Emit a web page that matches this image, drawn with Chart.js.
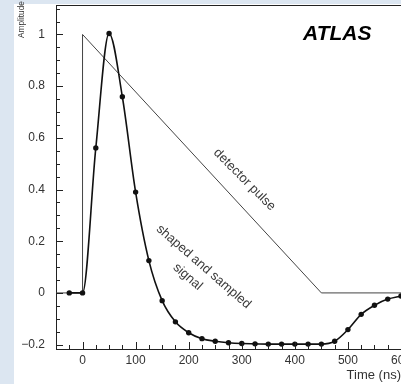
<!DOCTYPE html>
<html>
<head>
<meta charset="utf-8">
<script src="https://cdn.jsdelivr.net/npm/chart.js@4.4.1/dist/chart.umd.min.js"></script>
<style>
    html, body { margin: 0; padding: 0; overflow: hidden; width: 401px; height: 384px; background: #dce6f1; }
    #paper { position: absolute; left: 14px; top: 4px; width: 416px; height: 380px; background: #fff; }
    #pulseChart { position: absolute; left: 14px; top: 0; display: block; }
</style>
</head>
<body>
<div id="paper"></div>
<canvas id="pulseChart" width="416" height="384"></canvas>
<script>
(function pulse () {
    'use strict';

    // shaper output, sampled every 25 ns
    var sampleTimes = [-25, 0, 25, 50, 75, 100, 125, 150, 175, 200, 225, 250, 275,
        300, 325, 350, 375, 400, 425, 450, 475, 500, 525, 550, 575, 600];
    var signalValues = [0, 0, 0.561, 1.004, 0.759, 0.390, 0.125, -0.030, -0.112, -0.154,
        -0.177, -0.187, -0.193, -0.196, -0.197, -0.198, -0.198, -0.198, -0.198, -0.198,
        -0.187, -0.142, -0.083, -0.048, -0.024, -0.012];

    // triangular detector pulse
    var pulseTimes = [-50, 0, 0, 450, 600];
    var pulseValues = [0, 0, 1, 0, 0];

    var xTickLabels = [0, 100, 200, 300, 400, 500, 600];
    var yTickLabels = [-0.2, 0, 0.2, 0.4, 0.6, 0.8, 1];

    var font = '"Liberation Sans", Arial, sans-serif';

    function toPoints(xs, ys) {
        return xs.map(function (x, i) { return { x: x, y: ys[i] }; });
    }

    function inList(value, list) {
        return list.some(function (v) { return Math.abs(v - value) < 1e-6; });
    }

    function noPadding(scale) {
        scale.paddingTop = 0;
        scale.paddingBottom = 0;
        scale.paddingLeft = 0;
        scale.paddingRight = 0;
    }

    function rotatedText(c, text, x, y, deg, style) {
        c.save();
        c.translate(x, y);
        c.rotate(deg * Math.PI / 180);
        c.font = style;
        c.textAlign = 'center';
        c.textBaseline = 'middle';
        c.fillText(text, 0, 0);
        c.restore();
    }

    var frameAndTicks = {
        id: 'frameAndTicks',
        afterDraw: function (chart) {
            var c = chart.ctx;
            var area = chart.chartArea;
            var xs = chart.scales.x;
            var ys = chart.scales.y;

            c.save();
            c.strokeStyle = '#222';
            c.lineWidth = 1;
            c.beginPath();
            c.moveTo(area.left, area.top + 0.5);
            c.lineTo(area.right, area.top + 0.5);
            xs.ticks.forEach(function (t) {
                var px = Math.round(xs.getPixelForValue(t.value)) + 0.5;
                var len = inList(t.value, xTickLabels) ? 7 : 4;
                c.moveTo(px, area.bottom);
                c.lineTo(px, area.bottom - len);
            });
            ys.ticks.forEach(function (t) {
                var py = Math.round(ys.getPixelForValue(t.value)) + 0.5;
                var len = inList(t.value, yTickLabels) ? 7 : 4;
                c.moveTo(area.left, py);
                c.lineTo(area.left + len, py);
            });
            c.stroke();

            c.fillStyle = '#000';
            rotatedText(c, 'ATLAS', xs.getPixelForValue(480), ys.getPixelForValue(1.0), 0,
                'italic bold 21px ' + font);

            c.fillStyle = '#3a3a3a';
            rotatedText(c, 'detector pulse', xs.getPixelForValue(305), ys.getPixelForValue(0.438), 45,
                '13px ' + font);
            rotatedText(c, 'shaped and sampled', xs.getPixelForValue(228), ys.getPixelForValue(0.101), 41,
                '13px ' + font);
            rotatedText(c, 'signal', xs.getPixelForValue(198), ys.getPixelForValue(0.062), 41,
                '13px ' + font);

            c.fillStyle = '#333';
            c.save();
            c.translate(10, 38);
            c.rotate(-Math.PI / 2);
            c.font = '8.3px ' + font;
            c.textAlign = 'left';
            c.textBaseline = 'alphabetic';
            c.fillText('Amplitude', 0, 0);
            c.restore();

            c.restore();
        }
    };

    var ctx = document.getElementById('pulseChart').getContext('2d');

    new Chart(ctx, {
        type: 'line',
        data: {
            datasets: [{
                label: 'shaped and sampled signal',
                data: toPoints(sampleTimes, signalValues),
                borderColor: '#111',
                borderWidth: 1.6,
                backgroundColor: '#111',
                pointRadius: 2.7,
                pointBorderWidth: 0,
                cubicInterpolationMode: 'monotone',
                fill: false
            }, {
                label: 'detector pulse',
                data: toPoints(pulseTimes, pulseValues),
                borderColor: '#444',
                borderWidth: 1,
                pointRadius: 0,
                tension: 0,
                fill: false
            }]
        },
        plugins: [frameAndTicks],
        options: {
            responsive: false,
            animation: false,
            devicePixelRatio: 1,
            layout: { padding: { top: 5, right: 29, left: 0, bottom: 0 } },
            plugins: {
                legend: { display: false },
                tooltip: { enabled: false }
            },
            scales: {
                x: {
                    type: 'linear',
                    min: -50,
                    max: 600,
                    grid: { display: false, drawTicks: false },
                    border: { display: true, color: '#222', width: 1 },
                    ticks: {
                        stepSize: 25,
                        autoSkip: false,
                        maxRotation: 0,
                        padding: 4,
                        color: '#333',
                        font: { family: font, size: 12 },
                        callback: function (value) {
                            return inList(value, xTickLabels) ? String(Math.round(value)) : '';
                        }
                    },
                    title: {
                        display: true,
                        text: 'Time (ns)',
                        align: 'end',
                        color: '#333',
                        font: { family: font, size: 13 },
                        padding: { top: 0, bottom: 1 }
                    },
                    afterFit: function (scale) {
                        scale.height = 35;
                        noPadding(scale);
                    }
                },
                y: {
                    min: -0.217,
                    max: 1.114,
                    grid: { display: false, drawTicks: false },
                    border: { display: true, color: '#222', width: 1 },
                    ticks: {
                        stepSize: 0.05,
                        includeBounds: false,
                        autoSkip: false,
                        padding: 11,
                        color: '#333',
                        font: { family: font, size: 12 },
                        callback: function (value) {
                            if (!inList(value, yTickLabels)) {
                                return '';
                            }
                            var v = Math.round(value * 10) / 10;
                            return v < 0 ? '\u2212' + String(-v) : String(v);
                        }
                    },
                    afterFit: function (scale) {
                        scale.width = 42;
                        noPadding(scale);
                    }
                }
            }
        }
    });
}());
</script>
</body>
</html>
